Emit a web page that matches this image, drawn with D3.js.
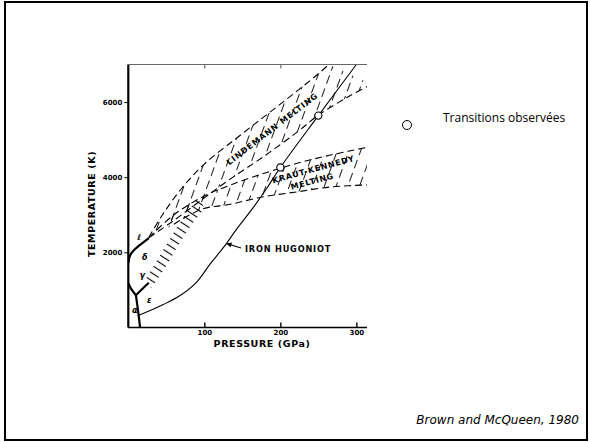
<!DOCTYPE html>
<html>
<head>
<meta charset="utf-8">
<script src="https://cdn.jsdelivr.net/npm/d3@7"></script>
<style>
  body { margin: 0; background: #fff; }
  svg { display: block; }
</style>
</head>
<body>
<div id="chart"></div>
<script>
const width = 590;
const height = 442;

// all points are [pressure (GPa), temperature (K)]
const meltLine = [[0, 1720], [2, 1900], [6, 2030], [15, 2190], [27, 2380]];
const alphaGamma = [[0, 1180], [4, 1020], [10, 860]];
const epsGamma = [[10, 860], [18, 1020], [27, 1190]];
const alphaEps = [[10, 860], [13, 420], [15.5, 0]];

const hugoniot = [[14, 330], [17, 350], [46, 610], [68, 850], [90, 1210], [108, 1700],
  [125, 2125], [143, 2630], [165, 3210], [182, 3700], [200, 4260], [250, 5640], [300, 7000]];
const transitions = [[200, 4260], [250, 5640]];

const lindUpper = [[27, 2400], [45, 3000], [70, 3700], [100, 4350], [143, 5050], [178, 5600],
  [213, 6150], [248, 6720], [264, 7000]];
const lindLower = [[27, 2390], [60, 2850], [100, 3450], [134, 3950], [178, 4550], [222, 5200],
  [250, 5650], [290, 6150], [320, 6470]];
const kkUpper = [[27, 2390], [60, 3000], [100, 3500], [134, 3790], [178, 4100], [222, 4370],
  [266, 4590], [320, 4820]];
const kkLower = [[60, 2750], [97, 3150], [134, 3280], [178, 3480], [222, 3610], [266, 3740],
  [320, 3800]];
const geUpper = [[24, 1340], [43, 1960], [61, 2570], [79, 3120], [94, 3480]];
const geLower = [[30, 1040], [49, 1610], [67, 2230], [85, 2780], [100, 3170]];

const tempTicks = [2000, 4000, 6000];
const pressTicks = [100, 200, 300];

const svg = d3.select('#chart')
  .append('svg')
  .attr('width', width)
  .attr('height', height);

// slide frame
svg.append('rect')
  .attr('x', 5).attr('y', 2)
  .attr('width', 582).attr('height', 438)
  .attr('fill', 'none')
  .attr('stroke', '#000')
  .attr('stroke-width', 2);

const x = d3.scaleLinear().domain([0, 314]).range([128.3, 367]);
const y = d3.scaleLinear().domain([0, 7000]).range([327.5, 64.5]);

const line = d3.line()
  .x(d => x(d[0]))
  .y(d => y(d[1]))
  .curve(d3.curveCatmullRom);

const defs = svg.append('defs');

defs.append('clipPath').attr('id', 'plot-clip')
  .append('rect')
  .attr('x', x(0)).attr('y', y(7000))
  .attr('width', x(314) - x(0)).attr('height', y(0) - y(7000));

function hatch(id, angle, gap, h, dash, sw) {
  const p = defs.append('pattern')
    .attr('id', id)
    .attr('patternUnits', 'userSpaceOnUse')
    .attr('width', gap).attr('height', h)
    .attr('patternTransform', `rotate(${angle})`);
  p.append('line')
    .attr('x1', gap / 2).attr('x2', gap / 2)
    .attr('y1', 0).attr('y2', h)
    .attr('stroke', '#000')
    .attr('stroke-width', sw)
    .attr('stroke-dasharray', dash);
}
hatch('hatch-melt', 20, 11, 14, '9,5', 0.9);
hatch('hatch-ge', -57, 6.5, 12, null, 1.1);

function band(upper, lower) {
  return line(upper) + 'L' + line(lower.slice().reverse()).slice(1) + 'Z';
}

const plot = svg.append('g').attr('clip-path', 'url(#plot-clip)');

// hatched melting bands
plot.append('path').attr('d', band(lindUpper, lindLower)).attr('fill', 'url(#hatch-melt)');
plot.append('path').attr('d', band(kkUpper, [[27, 2380]].concat(kkLower))).attr('fill', 'url(#hatch-melt)');
plot.append('path').attr('d', band(geUpper, geLower)).attr('fill', 'url(#hatch-ge)');

[lindUpper, lindLower, kkUpper, kkLower].forEach(d => {
  plot.append('path')
    .attr('d', line(d))
    .attr('fill', 'none')
    .attr('stroke', '#000')
    .attr('stroke-width', 1.1)
    .attr('stroke-dasharray', '7,4');
});

// phase boundaries
[meltLine, alphaGamma, epsGamma, alphaEps].forEach(d => {
  plot.append('path')
    .attr('d', line(d))
    .attr('fill', 'none')
    .attr('stroke', '#000')
    .attr('stroke-width', 2.2);
});

// hugoniot
plot.append('path')
  .attr('d', line(hugoniot))
  .attr('fill', 'none')
  .attr('stroke', '#000')
  .attr('stroke-width', 1.1);

svg.append('g')
  .selectAll('circle')
  .data(transitions)
  .join('circle')
  .attr('cx', d => x(d[0]))
  .attr('cy', d => y(d[1]))
  .attr('r', 3.6)
  .attr('fill', '#fff')
  .attr('stroke', '#000')
  .attr('stroke-width', 1.1);

// axes
const tickFont = g => g.selectAll('text')
  .style('font-family', '"DejaVu Sans"')
  .style('font-weight', 'bold')
  .style('font-size', '7px');

svg.append('g')
  .attr('transform', `translate(${x(0)},0)`)
  .call(d3.axisLeft(y).tickValues(tempTicks).tickFormat(d3.format('d')).tickSize(4).tickPadding(2))
  .call(g => g.select('.domain').remove())
  .call(tickFont);

svg.append('g')
  .attr('transform', `translate(0,${y(0)})`)
  .call(d3.axisBottom(x).tickValues(pressTicks).tickFormat(d3.format('d')).tickSize(-5).tickPadding(3))
  .call(g => g.select('.domain').remove())
  .call(g => g.selectAll('line').attr('stroke-width', 1.4))
  .call(tickFont);

svg.append('g')
  .attr('transform', `translate(0,${y(7000)})`)
  .call(d3.axisTop(x).tickValues([100, 200]).tickSize(-4).tickFormat(''))
  .call(g => g.select('.domain').remove())
  .call(g => g.selectAll('line').attr('stroke', '#555'));

svg.append('line')
  .attr('x1', x(0)).attr('x2', x(0))
  .attr('y1', y(7000)).attr('y2', y(0))
  .attr('stroke', '#000').attr('stroke-width', 2.2);
svg.append('line')
  .attr('x1', x(0)).attr('x2', x(314))
  .attr('y1', y(0)).attr('y2', y(0))
  .attr('stroke', '#000').attr('stroke-width', 1.5);
svg.append('line')
  .attr('x1', x(0)).attr('x2', x(314))
  .attr('y1', y(7000)).attr('y2', y(7000))
  .attr('stroke', '#666').attr('stroke-width', 1.2);

// axis titles
const bold = sel => sel
  .attr('font-family', '"DejaVu Sans"')
  .attr('font-weight', 'bold')
  .attr('fill', '#000');

svg.append('text')
  .attr('x', 262).attr('y', 347)
  .attr('text-anchor', 'middle')
  .attr('font-size', 9.5)
  .attr('letter-spacing', 0.6)
  .call(bold)
  .text('PRESSURE (GPa)');

svg.append('text')
  .attr('transform', 'translate(95,204) rotate(-90)')
  .attr('text-anchor', 'middle')
  .attr('font-size', 9.5)
  .attr('letter-spacing', 0.6)
  .call(bold)
  .text('TEMPERATURE (K)');

// labels inside the plot
svg.append('text')
  .attr('transform', 'translate(274,131) rotate(-37.5)')
  .attr('text-anchor', 'middle')
  .attr('font-size', 8)
  .attr('letter-spacing', 1)
  .call(bold)
  .text('LINDEMANN  MELTING');

svg.append('text')
  .attr('transform', 'translate(314,172) rotate(-15.5)')
  .attr('text-anchor', 'middle')
  .attr('font-size', 8)
  .attr('letter-spacing', 0.8)
  .call(bold)
  .text('KRAUT-KENNEDY');

svg.append('text')
  .attr('transform', 'translate(313,184) rotate(-15)')
  .attr('text-anchor', 'middle')
  .attr('font-size', 8)
  .attr('letter-spacing', 0.8)
  .call(bold)
  .text('MELTING');

svg.append('text')
  .attr('x', 245).attr('y', 251.5)
  .attr('font-size', 8.2)
  .attr('letter-spacing', 0.8)
  .call(bold)
  .text('IRON HUGONIOT');

svg.append('line')
  .attr('x1', 241).attr('y1', 248)
  .attr('x2', 228).attr('y2', 244)
  .attr('stroke', '#000').attr('stroke-width', 1.2);
svg.append('path')
  .attr('d', 'M226,243.4 L232,242.6 L230.6,247.2 Z')
  .attr('fill', '#000');

// phase letters
const phases = [['ℓ', 137.5, 240], ['δ', 142, 260], ['γ', 139.5, 278], ['ε', 147, 303], ['α', 132, 313]];
svg.append('g')
  .selectAll('text')
  .data(phases)
  .join('text')
  .attr('x', d => d[1]).attr('y', d => d[2])
  .attr('font-size', 8)
  .attr('font-style', 'italic')
  .call(bold)
  .text(d => d[0]);

// legend
svg.append('circle')
  .attr('cx', 407).attr('cy', 125)
  .attr('r', 4.5)
  .attr('fill', '#fff')
  .attr('stroke', '#000')
  .attr('stroke-width', 1);

svg.append('text')
  .attr('x', 443).attr('y', 122)
  .attr('font-family', '"Open Sans"')
  .attr('font-size', 12)
  .attr('fill', '#000')
  .text('Transitions observées');

svg.append('text')
  .attr('x', 579).attr('y', 424)
  .attr('text-anchor', 'end')
  .attr('font-family', '"DejaVu Sans"')
  .attr('font-style', 'italic')
  .attr('font-size', 12)
  .attr('fill', '#000')
  .text('Brown and McQueen, 1980');
</script>
</body>
</html>
